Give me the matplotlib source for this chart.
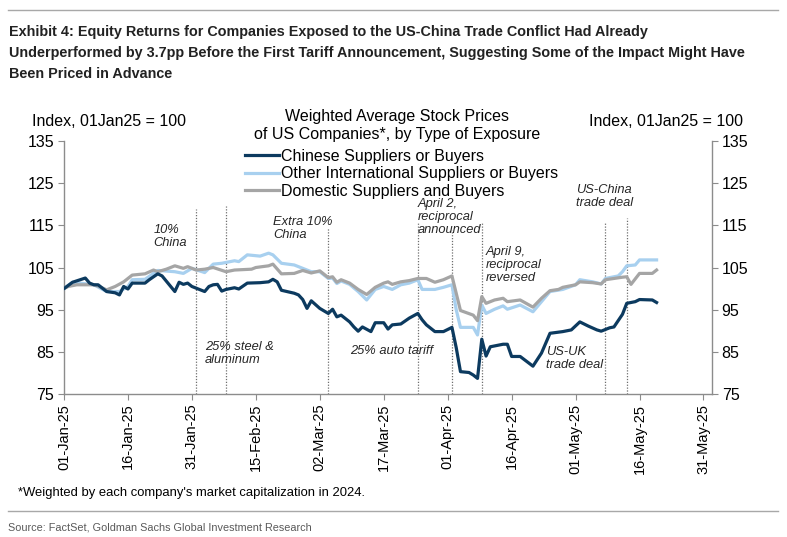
import matplotlib
matplotlib.use('Agg')
import matplotlib.pyplot as plt
import matplotlib.dates as mdates
from matplotlib.lines import Line2D
import pandas as pd

plt.rcParams['font.family'] = ['Liberation Sans', 'DejaVu Sans']

# --- data (index, 01Jan25 = 100) ---
china_dates = ['2025-01-01', '2025-01-03', '2025-01-06', '2025-01-07', '2025-01-08', '2025-01-09',
               '2025-01-11', '2025-01-13', '2025-01-14', '2025-01-15', '2025-01-16', '2025-01-17',
               '2025-01-20', '2025-01-21', '2025-01-23', '2025-01-24', '2025-01-27', '2025-01-28',
               '2025-01-29', '2025-01-30', '2025-01-31', '2025-02-03', '2025-02-04', '2025-02-05',
               '2025-02-06', '2025-02-07', '2025-02-08', '2025-02-10', '2025-02-11', '2025-02-13',
               '2025-02-16', '2025-02-18', '2025-02-19', '2025-02-20', '2025-02-21', '2025-02-24',
               '2025-02-25', '2025-02-26', '2025-02-27', '2025-02-28', '2025-03-02', '2025-03-04',
               '2025-03-05', '2025-03-06', '2025-03-07', '2025-03-09', '2025-03-10', '2025-03-11',
               '2025-03-12', '2025-03-14', '2025-03-15', '2025-03-17', '2025-03-18', '2025-03-19',
               '2025-03-21', '2025-03-23', '2025-03-25', '2025-03-26', '2025-03-27', '2025-03-29',
               '2025-03-31', '2025-04-02', '2025-04-03', '2025-04-04', '2025-04-06', '2025-04-07',
               '2025-04-08', '2025-04-09', '2025-04-10', '2025-04-11', '2025-04-14', '2025-04-15',
               '2025-04-16', '2025-04-18', '2025-04-21', '2025-04-23', '2025-04-25', '2025-04-28',
               '2025-04-30', '2025-05-02', '2025-05-04', '2025-05-06', '2025-05-07', '2025-05-09',
               '2025-05-10', '2025-05-12', '2025-05-13', '2025-05-15', '2025-05-16', '2025-05-19',
               '2025-05-20']
china_vals = [100.0, 101.5, 102.5, 101.3, 100.9, 100.9,
              99.3, 99.0, 98.5, 100.5, 99.9, 101.3,
              101.3, 102.1, 103.5, 103.0, 99.3, 101.5,
              101.0, 101.3, 100.5, 99.3, 100.5, 100.9,
              101.0, 99.4, 99.8, 100.2, 99.9, 101.3,
              101.4, 101.6, 102.2, 101.6, 99.6, 98.9,
              98.5, 97.4, 95.3, 97.1, 95.3, 94.1,
              95.1, 93.3, 93.7, 92.1, 90.9, 89.9,
              90.9, 89.8, 91.9, 91.9, 90.4, 91.4,
              91.6, 93.0, 94.1, 92.6, 91.4, 89.8,
              89.8, 90.8, 86.0, 80.3, 80.1, 79.5,
              78.7, 88.0, 84.0, 86.2, 86.8, 86.8,
              83.9, 83.9, 81.6, 84.7, 89.4, 89.8,
              90.2, 92.1, 91.1, 90.2, 89.9, 90.7,
              90.9, 93.9, 96.5, 96.9, 97.4, 97.3,
              96.7]

intl_dates = ['2025-01-01', '2025-01-03', '2025-01-08', '2025-01-11', '2025-01-14', '2025-01-16',
              '2025-01-17', '2025-01-20', '2025-01-22', '2025-01-23', '2025-01-27', '2025-01-29',
              '2025-01-31', '2025-02-03', '2025-02-05', '2025-02-07', '2025-02-10', '2025-02-11',
              '2025-02-13', '2025-02-16', '2025-02-18', '2025-02-19', '2025-02-21', '2025-02-24',
              '2025-02-26', '2025-02-28', '2025-03-02', '2025-03-04', '2025-03-05', '2025-03-06',
              '2025-03-07', '2025-03-09', '2025-03-11', '2025-03-13', '2025-03-15', '2025-03-17',
              '2025-03-19', '2025-03-21', '2025-03-23', '2025-03-25', '2025-03-26', '2025-03-29',
              '2025-03-31', '2025-04-02', '2025-04-03', '2025-04-04', '2025-04-07', '2025-04-08',
              '2025-04-09', '2025-04-10', '2025-04-12', '2025-04-14', '2025-04-15', '2025-04-18',
              '2025-04-21', '2025-04-23', '2025-04-25', '2025-04-28', '2025-05-01', '2025-05-02',
              '2025-05-05', '2025-05-07', '2025-05-08', '2025-05-11', '2025-05-12', '2025-05-13',
              '2025-05-15', '2025-05-16', '2025-05-20']
intl_vals = [100.0, 101.5, 100.9, 99.3, 99.3, 100.5,
             102.1, 102.2, 103.6, 104.3, 104.0, 103.6,
             104.8, 103.8, 105.8, 106.0, 106.6, 106.4,
             108.0, 107.7, 108.4, 108.0, 106.0, 105.6,
             104.8, 104.0, 104.0, 102.4, 102.5, 101.2,
             101.8, 101.0, 99.3, 97.3, 99.8, 100.5,
             99.8, 100.9, 101.3, 102.1, 99.8, 99.8,
             100.3, 100.9, 95.0, 90.8, 90.8, 89.0,
             96.1, 94.1, 95.1, 95.9, 95.1, 96.1,
             94.5, 96.9, 99.3, 99.8, 100.9, 102.1,
             101.6, 101.1, 102.4, 103.0, 104.0, 105.4,
             105.6, 106.8, 106.8]

dom_dates = ['2025-01-01', '2025-01-02', '2025-01-04', '2025-01-08', '2025-01-09', '2025-01-11',
             '2025-01-13', '2025-01-15', '2025-01-17', '2025-01-20', '2025-01-22', '2025-01-23',
             '2025-01-25', '2025-01-27', '2025-01-29', '2025-01-30', '2025-02-01', '2025-02-03',
             '2025-02-05', '2025-02-08', '2025-02-10', '2025-02-14', '2025-02-15', '2025-02-18',
             '2025-02-19', '2025-02-21', '2025-02-24', '2025-02-26', '2025-02-28', '2025-03-02',
             '2025-03-04', '2025-03-05', '2025-03-06', '2025-03-07', '2025-03-09', '2025-03-11',
             '2025-03-13', '2025-03-15', '2025-03-17', '2025-03-18', '2025-03-19', '2025-03-21',
             '2025-03-23', '2025-03-25', '2025-03-27', '2025-03-29', '2025-03-31', '2025-04-02',
             '2025-04-03', '2025-04-04', '2025-04-07', '2025-04-08', '2025-04-09', '2025-04-10',
             '2025-04-12', '2025-04-14', '2025-04-15', '2025-04-18', '2025-04-21', '2025-04-23',
             '2025-04-25', '2025-04-27', '2025-04-28', '2025-05-01', '2025-05-02', '2025-05-05',
             '2025-05-07', '2025-05-08', '2025-05-12', '2025-05-13', '2025-05-14', '2025-05-16',
             '2025-05-19', '2025-05-20']
dom_vals = [100.0, 100.5, 100.9, 100.9, 100.6, 99.7,
            100.5, 101.6, 103.2, 103.5, 104.4, 104.0,
            104.6, 105.4, 104.8, 105.2, 104.4, 104.6,
            105.0, 104.0, 104.4, 104.6, 105.0, 105.4,
            105.8, 103.5, 103.6, 104.3, 103.7, 104.2,
            102.6, 102.8, 101.5, 102.1, 101.3, 99.8,
            98.6, 100.3, 101.3, 101.6, 101.0, 101.6,
            101.9, 102.4, 102.4, 101.5, 102.1, 103.0,
            98.9, 94.8, 93.7, 92.4, 98.1, 96.5,
            97.3, 97.7, 96.9, 97.3, 95.6, 97.7,
            99.5, 99.8, 100.3, 100.9, 101.6, 101.4,
            101.1, 102.1, 102.7, 102.8, 101.0, 103.6,
            103.6, 104.4]

series_names = ['Chinese Suppliers or Buyers',
                'Other International Suppliers or Buyers',
                'Domestic Suppliers and Buyers']

# event lines: date and how high the dotted line reaches
event_dates = ['2025-02-01', '2025-02-08', '2025-03-04', '2025-03-25',
               '2025-04-02', '2025-04-09', '2025-05-08', '2025-05-13']
event_tops = [118.9, 119.6, 114.4, 115.6, 114.0, 115.6, 115.6, 116.7]

notes = ['10%\nChina', 'Extra 10%\nChina', 'April 2,\nreciprocal\nannounced',
         'April 9,\nreciprocal\nreversed', 'US-China\ntrade deal',
         '25% steel &\naluminum', '25% auto tariff', 'US-UK\ntrade deal']
note_dates = ['2025-01-22', '2025-02-19', '2025-03-25', '2025-04-10',
              '2025-05-01', '2025-02-03', '2025-03-09', '2025-04-24']
note_vals = [115.2, 117.1, 121.4, 110.0, 124.7, 87.5, 86.6, 86.3]

W, H = 787, 537
fig = plt.figure(figsize=(W / 100, H / 100), dpi=100)
ax = fig.add_axes([64 / W, 1 - 394 / H, (712 - 64) / W, (394 - 141) / H])

navy = '#0c3a5f'
lblue = '#a8d0ef'
grey = '#a5a5a5'

ax.plot(pd.to_datetime(intl_dates), intl_vals, color=lblue, lw=2.3, label=series_names[1], zorder=3)
ax.plot(pd.to_datetime(dom_dates), dom_vals, color=grey, lw=2.3, label=series_names[2], zorder=3)
ax.plot(pd.to_datetime(china_dates), china_vals, color=navy, lw=2.3, label=series_names[0], zorder=4)

for d, top in zip(event_dates, event_tops):
    ax.plot([pd.Timestamp(d)] * 2, [75, top], color='#6e6e6e', lw=0.9, ls=(0, (1, 1.3)), zorder=2)

for t, d, v in zip(notes, note_dates, note_vals):
    ax.text(pd.Timestamp(d), v, t, fontsize=9.3, style='italic', color='#262626',
            va='top', ha='left', linespacing=1.1, zorder=5)

ax.set_ylim(75, 135)
ax.set_yticks(range(75, 136, 10))
ax.set_xlim(pd.Timestamp('2025-01-01'), pd.Timestamp('2025-06-02'))
ax.set_xticks(pd.date_range('2025-01-01', periods=11, freq='15D'))
ax.xaxis.set_major_formatter(mdates.DateFormatter('%d-%b-%y'))
ax.tick_params(axis='x', rotation=90, labelsize=10.5, length=4, color='#8c8c8c', pad=3)
ax.tick_params(axis='y', labelsize=11.5, length=4, color='#8c8c8c', right=True, labelright=True, pad=3)

for s in ['left', 'right', 'bottom']:
    ax.spines[s].set_color('#8c8c8c')
    ax.spines[s].set_linewidth(1.0)
ax.spines['top'].set_visible(False)

# legend with its two-line heading above it
fig.text(397 / W, 1 - 117 / H, 'Weighted Average Stock Prices', fontsize=11.5, ha='center', va='center')
fig.text(397 / W, 1 - 135 / H, 'of US Companies*, by Type of Exposure', fontsize=11.5, ha='center', va='center')
h, l = ax.get_legend_handles_labels()
order = [2, 0, 1]
leg = fig.legend([h[i] for i in order], [l[i] for i in order],
                 loc='upper left', bbox_to_anchor=(245 / W, 1 - 149 / H),
                 frameon=False, fontsize=11.5,
                 handlelength=2.1, handletextpad=0.15, labelspacing=0.15,
                 borderpad=0, borderaxespad=0)

fig.text(32 / W, 1 - 121 / H, 'Index, 01Jan25 = 100', fontsize=11.5, va='center', ha='left')
fig.text(743 / W, 1 - 121 / H, 'Index, 01Jan25 = 100', fontsize=11.5, va='center', ha='right')

# header / footer
title_lines = ['Exhibit 4: Equity Returns for Companies Exposed to the US-China Trade Conflict Had Already',
               'Underperformed by 3.7pp Before the First Tariff Announcement, Suggesting Some of the Impact Might Have',
               'Been Priced in Advance']
for i, line in enumerate(title_lines):
    fig.text(9 / W, 1 - (32 + 21 * i) / H, line, fontsize=10.4, fontweight='bold',
             color='#222222', va='center', ha='left')

fig.add_artist(Line2D([8 / W, 778 / W], [1 - 10 / H] * 2, color='#a8a8a8', lw=1))
fig.add_artist(Line2D([8 / W, 778 / W], [1 - 511 / H] * 2, color='#a8a8a8', lw=1))

fig.text(18 / W, 1 - 493 / H, "*Weighted by each company's market capitalization in 2024.",
         fontsize=9.4, va='center', ha='left')
fig.text(8 / W, 1 - 527 / H, 'Source: FactSet, Goldman Sachs Global Investment Research',
         fontsize=7.8, color='#595959', va='center', ha='left')

fig.savefig('out.png', dpi=100)
